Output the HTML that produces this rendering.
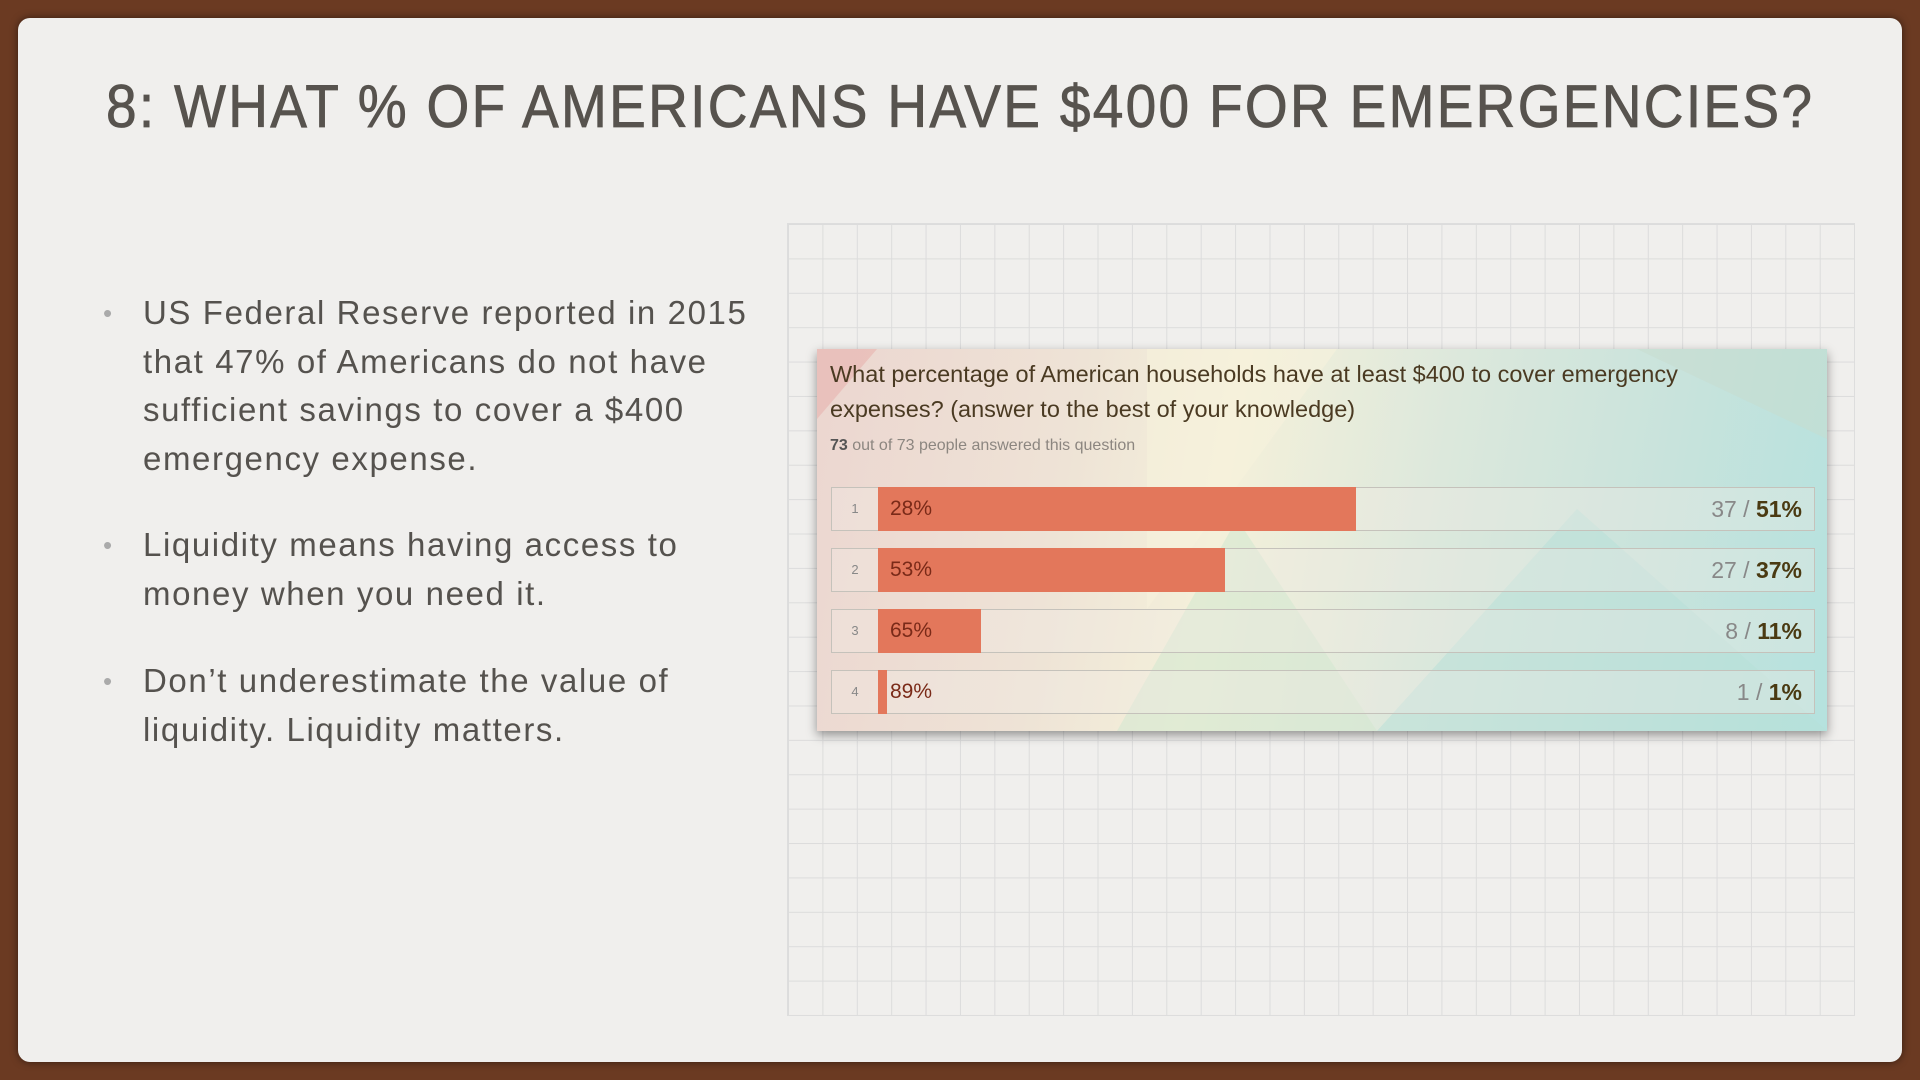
<!DOCTYPE html>
<html><head><style>
*{margin:0;padding:0;box-sizing:border-box}
body{width:1920px;height:1080px;background:#6b3a22;position:relative;overflow:hidden;font-family:"Liberation Sans",sans-serif}
.paper{position:absolute;left:18px;top:18px;width:1884px;height:1044px;background:#f0efed;border-radius:12px;box-shadow:0 0 8px rgba(0,0,0,.5)}
h1{position:absolute;left:106px;top:72px;font-size:60px;font-weight:normal;color:#57534e;letter-spacing:2.5px;white-space:nowrap;transform:scaleX(0.917);transform-origin:left;-webkit-text-stroke:0.8px #57534e}
.bul{position:absolute;left:143px;font-size:33px;line-height:48.5px;color:#55524e;letter-spacing:1.6px;white-space:nowrap}
.bul:before{content:"•";position:absolute;left:-40px;color:#aaa;font-size:26px}
.grid{position:absolute;left:787px;top:223px;width:1068px;height:793px;border:1px solid #ddd;
background-image:linear-gradient(#dcdcdc 1px,transparent 1px),linear-gradient(90deg,#dcdcdc 1px,transparent 1px);background-size:34.4px 34.4px}
.card{position:absolute;left:817px;top:349px;width:1010px;height:382px;overflow:hidden;box-shadow:0 4px 10px rgba(0,0,0,.4);
background:linear-gradient(100deg,#ecd6d0 0%,#eee3d6 25%,#f4f0da 40%,#dce8dc 60%,#c9e3dc 80%,#b5e2de 100%)}
.q{position:absolute;left:13px;top:8px;font-size:23.5px;line-height:35px;color:#4a3a22}
.s{position:absolute;left:13px;top:88px;font-size:16px;color:#8c8680}
.row{position:absolute;left:14px;width:984px;height:44px;border:1px solid #c5c2bb;background:rgba(240,236,230,.35)}
.n{position:absolute;left:0;width:46px;top:0;height:42px;line-height:42px;text-align:center;font-size:13px;color:#888}
.bar{position:absolute;left:46px;top:-1px;height:44px;background:#e3775b}
.l{position:absolute;left:58px;line-height:42px;font-size:21px;color:#7a2a18}
.r{position:absolute;right:12px;line-height:42px;font-size:23px;color:#888}
.r b{color:#4a3a12}
</style></head><body>
<div class="paper"></div>
<h1>8: WHAT % OF AMERICANS HAVE $400 FOR EMERGENCIES?</h1>
<div class="bul" style="top:289px">US Federal Reserve reported in 2015<br>that 47% of Americans do not have<br>sufficient savings to cover a $400<br>emergency expense.</div>
<div class="bul" style="top:521px">Liquidity means having access to<br>money when you need it.</div>
<div class="bul" style="top:657px">Don’t underestimate the value of<br>liquidity. Liquidity matters.</div>
<div class="grid"></div>
<div class="card">
<svg width="1010" height="382" style="position:absolute;left:0;top:0">
<polygon points="0,0 60,0 0,70" fill="#e8b8b4" opacity=".7"/>
<polygon points="330,0 520,0 330,260" fill="#f6f2dc" opacity=".6"/>
<polygon points="300,382 420,170 560,382" fill="#d4e8d0" opacity=".6"/>
<polygon points="560,382 760,160 1010,382" fill="#b6dfd8" opacity=".5"/>
<polygon points="820,0 1010,0 1010,90" fill="#c8dccd" opacity=".5"/>
</svg>
<div class="q">What percentage of American households have at least $400 to cover emergency<br>expenses? (answer to the best of your knowledge)</div>
<div class="s"><b style="color:#555">73</b> out of 73 people answered this question</div>
<div class="row" style="top:138px"><div class="n">1</div><div class="bar" style="width:478px"></div><div class="l">28%</div><div class="r">37 / <b>51%</b></div></div>
<div class="row" style="top:199px"><div class="n">2</div><div class="bar" style="width:347px"></div><div class="l">53%</div><div class="r">27 / <b>37%</b></div></div>
<div class="row" style="top:260px"><div class="n">3</div><div class="bar" style="width:103px"></div><div class="l">65%</div><div class="r">8 / <b>11%</b></div></div>
<div class="row" style="top:321px"><div class="n">4</div><div class="bar" style="width:9px"></div><div class="l">89%</div><div class="r">1 / <b>1%</b></div></div>
</div>
</body></html>
